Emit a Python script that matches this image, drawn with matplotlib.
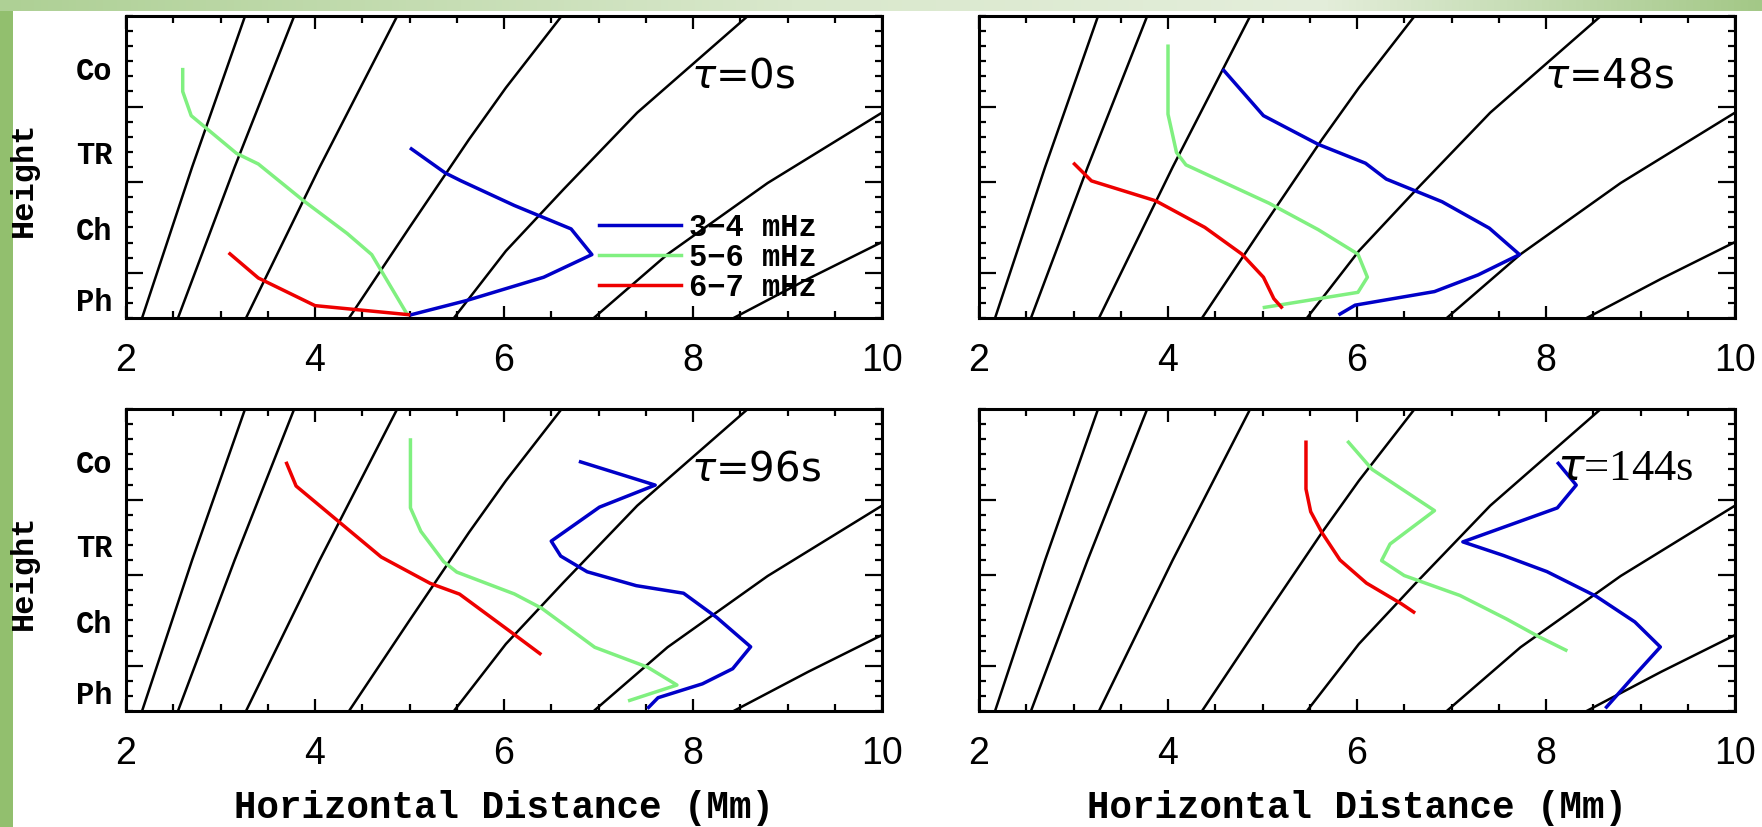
import matplotlib
matplotlib.use("Agg")
import numpy as np
import matplotlib.pyplot as plt
from matplotlib.patches import Rectangle
from matplotlib.colors import LinearSegmentedColormap
from matplotlib.ticker import MultipleLocator, FixedLocator

# ---------------- data ----------------
# Background magnetic field lines: horizontal distance (Mm) vs height index (0-20)
field_x = [
    [2.17, 2.70, 3.26],
    [2.55, 3.15, 3.78],
    [3.27, 4.05, 4.87],
    [4.36, 5.00, 5.63, 6.02, 6.61],
    [5.47, 6.02, 6.63, 7.41, 8.58],
    [6.95, 7.73, 8.79, 10.0],
    [8.43, 9.22, 10.0],
]
field_y = [
    [0, 10, 20],
    [0, 10, 20],
    [0, 10, 20],
    [0, 6.0, 11.83, 15.25, 20],
    [0, 4.44, 8.52, 13.6, 20],
    [0, 4.22, 8.94, 13.6],
    [0, 2.6, 5.03],
]

# tau = 0 s
blue_0_x = [5.02, 5.38, 5.54, 6.11, 6.71, 6.93, 6.42, 5.60, 5.02]
blue_0_y = [11.2, 9.6, 9.1, 7.45, 5.9, 4.2, 2.7, 1.15, 0.22]
green_0_x = [2.60, 2.60, 2.69, 3.17, 3.40, 3.88, 4.34, 4.60, 4.97]
green_0_y = [16.45, 15.0, 13.4, 10.9, 10.2, 7.76, 5.6, 4.2, 0.3]
red_0_x = [3.10, 3.40, 4.00, 4.99]
red_0_y = [4.25, 2.65, 0.82, 0.22]

# tau = 48 s
blue_48_x = [4.59, 5.01, 5.59, 6.09, 6.31, 6.90, 7.40, 7.72, 7.28, 6.82, 5.98, 5.82]
blue_48_y = [16.4, 13.4, 11.5, 10.25, 9.2, 7.7, 5.95, 4.2, 2.85, 1.75, 0.85, 0.26]
green_48_x = [4.00, 4.00, 4.09, 4.19, 5.07, 5.59, 6.01, 6.11, 6.01, 5.02]
green_48_y = [18.0, 13.5, 10.96, 10.14, 7.6, 5.85, 4.23, 2.7, 1.7, 0.7]
red_48_x = [3.01, 3.19, 3.87, 4.39, 4.78, 5.01, 5.12, 5.20]
red_48_y = [10.2, 9.08, 7.76, 6.0, 4.24, 2.7, 1.28, 0.72]

# tau = 96 s
blue_96_x = [6.81, 7.60, 7.01, 6.50, 6.60, 6.88, 7.40, 7.90, 8.25, 8.61, 8.42, 8.10, 7.63, 7.53]
blue_96_y = [16.5, 14.96, 13.5, 11.25, 10.26, 9.22, 8.3, 7.8, 6.2, 4.25, 2.8, 1.8, 0.88, 0.24]
green_96_x = [5.01, 5.01, 5.12, 5.36, 5.50, 6.11, 6.40, 6.96, 7.52, 7.83, 7.33]
green_96_y = [17.95, 13.45, 11.9, 9.9, 9.2, 7.75, 6.8, 4.22, 2.9, 1.72, 0.7]
red_96_x = [3.70, 3.80, 4.24, 4.70, 5.22, 5.53, 6.08, 6.38]
red_96_y = [16.4, 14.9, 12.6, 10.2, 8.45, 7.74, 5.2, 3.8]

# tau = 144 s
blue_144_x = [8.13, 8.32, 8.12, 7.12, 7.55, 8.01, 8.53, 8.94, 9.21, 8.90, 8.64]
blue_144_y = [16.4, 14.96, 13.45, 11.2, 10.3, 9.23, 7.6, 5.9, 4.24, 2.1, 0.26]
green_144_x = [5.91, 6.16, 6.82, 6.35, 6.26, 6.50, 7.09, 7.58, 7.93, 8.21]
green_144_y = [17.8, 16.0, 13.27, 11.06, 9.96, 8.97, 7.65, 6.1, 4.9, 4.03]
red_144_x = [5.46, 5.46, 5.51, 5.63, 5.82, 6.10, 6.47, 6.60]
red_144_y = [17.8, 14.7, 13.2, 11.8, 10.0, 8.47, 7.1, 6.55]

tau_labels = [r"$\tau$=0s", r"$\tau$=48s", r"$\tau$=96s", r"$\tau$=144s"]
band_labels = ["3\u22124 mHz", "5\u22126 mHz", "6\u22127 mHz"]
layer_names = ["Ph", "Ch", "TR", "Co"]
layer_pos = [1.0, 5.7, 10.7, 16.3]
layer_bounds = [3, 9, 14]
x_ticks = [2, 4, 6, 8, 10]

panels = [
    (blue_0_x, blue_0_y, green_0_x, green_0_y, red_0_x, red_0_y),
    (blue_48_x, blue_48_y, green_48_x, green_48_y, red_48_x, red_48_y),
    (blue_96_x, blue_96_y, green_96_x, green_96_y, red_96_x, red_96_y),
    (blue_144_x, blue_144_y, green_144_x, green_144_y, red_144_x, red_144_y),
]

BLUE = "#0000c8"
GREEN = "#80f080"
RED = "#ee0000"

# ---------------- figure ----------------
W, H = 1762, 827
fig = plt.figure(figsize=(W / 100, H / 100), dpi=100)
fig.patch.set_facecolor("white")

# decorative frame: green bar on the left, gradient band on top
fig.add_artist(Rectangle((0, 0), 13 / W, 1, transform=fig.transFigure,
                         facecolor="#92bf6e", edgecolor="none", zorder=0))
band_ax = fig.add_axes([0, 1 - 11 / H, 1, 11 / H])
band_cmap = LinearSegmentedColormap.from_list(
    "band", [(0.0, "#aed095"), (0.45, "#d9e8cc"), (0.75, "#e4eedb"), (1.0, "#a3c887")])
band_ax.imshow(np.linspace(0, 1, 512)[None, :], cmap=band_cmap, aspect="auto",
               extent=(0, 1, 0, 1))
band_ax.set_axis_off()

left_cols = [126 / W, 979 / W]
bottoms = [(H - 318) / H, (H - 711) / H]
aw, ah = 756 / W, 302 / H

MONO = "Liberation Mono"

for i, (bx, by, gx, gy, rx, ry) in enumerate(panels):
    row, col = divmod(i, 2)
    ax = fig.add_axes([left_cols[col], bottoms[row], aw, ah])
    ax.set_xlim(2, 10)
    ax.set_ylim(0, 20)

    for fx, fy in zip(field_x, field_y):
        ax.plot(fx, fy, color="black", lw=1.8, solid_joinstyle="round", zorder=2)

    ax.plot(bx, by, color=BLUE, lw=2.5, zorder=3, label=band_labels[0])
    ax.plot(gx, gy, color=GREEN, lw=2.5, zorder=3, label=band_labels[1])
    ax.plot(rx, ry, color=RED, lw=2.5, zorder=3, label=band_labels[2])

    if i == 3:
        ax.text(8.12, 16.0, tau_labels[i], fontsize=32, family="Liberation Serif",
                ha="left", va="center", zorder=4)
    else:
        ax.text(7.98, 16.0, tau_labels[i], fontsize=29, family="DejaVu Sans",
                ha="left", va="center", zorder=4)

    # axis styling: ticks inward on all four sides
    ax.xaxis.set_major_locator(FixedLocator(x_ticks))
    ax.xaxis.set_minor_locator(MultipleLocator(0.5))
    ax.yaxis.set_major_locator(FixedLocator(layer_bounds))
    ax.yaxis.set_minor_locator(MultipleLocator(1))
    ax.tick_params(which="both", direction="in", top=True, right=True,
                   width=1.6, color="black")
    ax.tick_params(which="major", length=9)
    ax.tick_params(which="minor", length=5)
    ax.tick_params(axis="y", which="major", length=12)
    ax.tick_params(axis="x", which="major", pad=18, labelsize=27)
    ax.tick_params(axis="y", labelleft=False)
    for lab in ax.get_xticklabels():
        lab.set_family("Liberation Sans")
    for sp in ax.spines.values():
        sp.set_linewidth(2.2)

    ax.set_xlabel("Horizontal Distance (Mm)" if row == 1 else "",
                  family=MONO, fontweight="bold", fontsize=27, labelpad=13)

    if col == 0:
        for name, pos in zip(layer_names, layer_pos):
            ax.text(-0.018, pos, name, transform=ax.get_yaxis_transform(),
                    ha="right", va="center", family=MONO, fontweight="bold",
                    fontsize=22)
        ax.set_ylabel("Height", family=MONO, fontweight="bold", fontsize=23,
                      va="center")
        ax.yaxis.set_label_coords(-0.135, 0.46)

    if i == 0:
        leg = ax.legend(loc="center left", bbox_to_anchor=(7.0, 4.0),
                        bbox_transform=ax.transData, frameon=False,
                        prop={"family": MONO, "size": 22, "weight": "bold"},
                        handlelength=2.7, handletextpad=0.25,
                        labelspacing=0.0, borderpad=0, borderaxespad=0)
        for line in leg.get_lines():
            line.set_linewidth(2.5)
        leg.set_zorder(5)

fig.savefig("out.png", dpi=100, facecolor=fig.get_facecolor())
